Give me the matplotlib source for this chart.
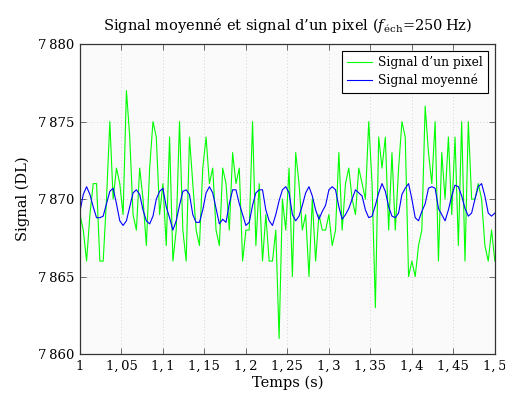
import numpy as np
import matplotlib
matplotlib.use("Agg")
import matplotlib.pyplot as plt
from matplotlib.ticker import FixedLocator

plt.rcParams['font.family'] = ['DejaVu Serif']
plt.rcParams['mathtext.fontset'] = 'dejavuserif'

t_start = 1.0
fs = 250.0

pixel_signal = [
    7869, 7868, 7866, 7869, 7871, 7871, 7866, 7866, 7870, 7875,
    7870, 7872, 7871, 7869, 7877, 7874, 7869, 7868, 7872, 7870,
    7867, 7872, 7875, 7874, 7869, 7871, 7867, 7874, 7866, 7868,
    7875, 7868, 7866, 7874, 7871, 7868, 7867, 7872, 7874, 7871,
    7872, 7868, 7867, 7872, 7871, 7868, 7873, 7871, 7872, 7866,
    7868, 7868, 7875, 7867, 7871, 7866, 7869, 7866, 7866, 7868,
    7861, 7870, 7868, 7872, 7865, 7873, 7871, 7868, 7869, 7865,
    7870, 7866, 7869, 7868, 7868, 7869, 7867, 7868, 7873, 7868,
    7871, 7872, 7870, 7869, 7872, 7871, 7870, 7875, 7871, 7863,
    7874, 7872, 7874, 7868, 7873, 7868, 7872, 7875, 7874, 7865,
    7866, 7865, 7867, 7868, 7876, 7873, 7871, 7875, 7866, 7873,
    7870, 7874, 7869, 7874, 7867, 7875, 7866, 7875, 7870, 7870,
    7871, 7870, 7867, 7866, 7868, 7866,
]

mean_signal = [
    7869.2, 7870.3, 7870.8, 7870.3, 7869.5, 7868.8, 7868.8, 7868.9, 7869.7, 7870.5,
    7870.7, 7869.7, 7868.6, 7868.3, 7868.6, 7869.5, 7870.4, 7870.6, 7870.3, 7869.3,
    7868.6, 7868.4, 7868.9, 7870.0, 7870.5, 7870.7, 7869.5, 7868.8, 7868.0, 7868.6,
    7869.6, 7870.5, 7870.6, 7870.3, 7869.0, 7868.5, 7868.5, 7869.3, 7870.4, 7870.8,
    7870.4, 7869.4, 7868.4, 7868.7, 7868.5, 7869.7, 7870.6, 7870.6, 7869.7, 7869.0,
    7868.3, 7868.5, 7869.6, 7870.4, 7870.6, 7870.6, 7869.3, 7868.6, 7868.3, 7869.0,
    7869.9, 7870.6, 7870.8, 7870.4, 7869.0, 7868.6, 7868.9, 7869.6, 7870.4, 7870.8,
    7870.2, 7869.3, 7868.7, 7869.2, 7869.6, 7870.6, 7870.8, 7870.6, 7869.5, 7868.7,
    7869.0, 7869.4, 7870.0, 7870.6, 7870.4, 7870.2, 7869.3, 7868.8, 7868.9, 7869.6,
    7870.4, 7871.0, 7870.5, 7869.5, 7868.9, 7868.8, 7869.1, 7870.3, 7870.7, 7871.0,
    7870.0, 7868.8, 7868.6, 7869.2, 7869.7, 7870.7, 7870.8, 7870.7, 7869.4, 7869.0,
    7868.6, 7869.3, 7870.2, 7870.9, 7870.8, 7870.2, 7869.4, 7868.9, 7869.1, 7870.0,
    7870.8, 7871.0, 7870.2, 7869.1, 7868.9, 7869.1,
]

x_ticks = [1.0, 1.05, 1.1, 1.15, 1.2, 1.25, 1.3, 1.35, 1.4, 1.45, 1.5]
x_tick_labels = ['1', '1,\u200905', '1,\u20091', '1,\u200915', '1,\u20092', '1,\u200925',
                 '1,\u20093', '1,\u200935', '1,\u20094', '1,\u200945', '1,\u20095']
y_ticks = [7860, 7865, 7870, 7875, 7880]
y_tick_labels = ['7\u2009860', '7\u2009865', '7\u2009870', '7\u2009875', '7\u2009880']

t = t_start + np.arange(len(pixel_signal)) / fs

fig = plt.figure(figsize=(5.06, 4.01), dpi=100)
ax = fig.add_axes([0.158, 0.117, 0.820, 0.773])
ax.set_facecolor('#fafafa')

ax.plot(t, pixel_signal, color='#00ff00', lw=0.8, label='Signal d\u2019un pixel')
ax.plot(t, mean_signal, color='#0000ff', lw=0.8, label='Signal moyenn\u00e9')

ax.set_xlim(1.0, 1.5)
ax.set_ylim(7860, 7880)
ax.xaxis.set_major_locator(FixedLocator(x_ticks))
ax.set_xticklabels(x_tick_labels)
ax.yaxis.set_major_locator(FixedLocator(y_ticks))
ax.set_yticklabels(y_tick_labels)
ax.tick_params(direction='in', top=True, right=True, length=4, width=0.6,
               labelsize=9.5, color='#555555', pad=4)
ax.grid(True, linestyle=(0, (1, 3)), color='#c8c8c8', linewidth=0.6)
for s in ax.spines.values():
    s.set_linewidth(0.9)
    s.set_color('#333333')

ax.set_xlabel('Temps (s)', fontsize=10.5, labelpad=2)
ax.set_ylabel('Signal (DL)', fontsize=10.5, labelpad=6)
ax.set_title('Signal moyenn\u00e9 et signal d\u2019un pixel ($f_{\\mathrm{\u00e9ch}}$=250\u2009Hz)',
             fontsize=10.5, pad=10)

leg = ax.legend(loc='upper right', fontsize=8.8, frameon=True, fancybox=False,
                edgecolor='black', framealpha=1, borderaxespad=0.55,
                handlelength=2.0, handletextpad=0.5, borderpad=0.45, labelspacing=0.35)
leg.get_frame().set_linewidth(0.8)

fig.savefig('out.png', dpi=100, facecolor='white')
